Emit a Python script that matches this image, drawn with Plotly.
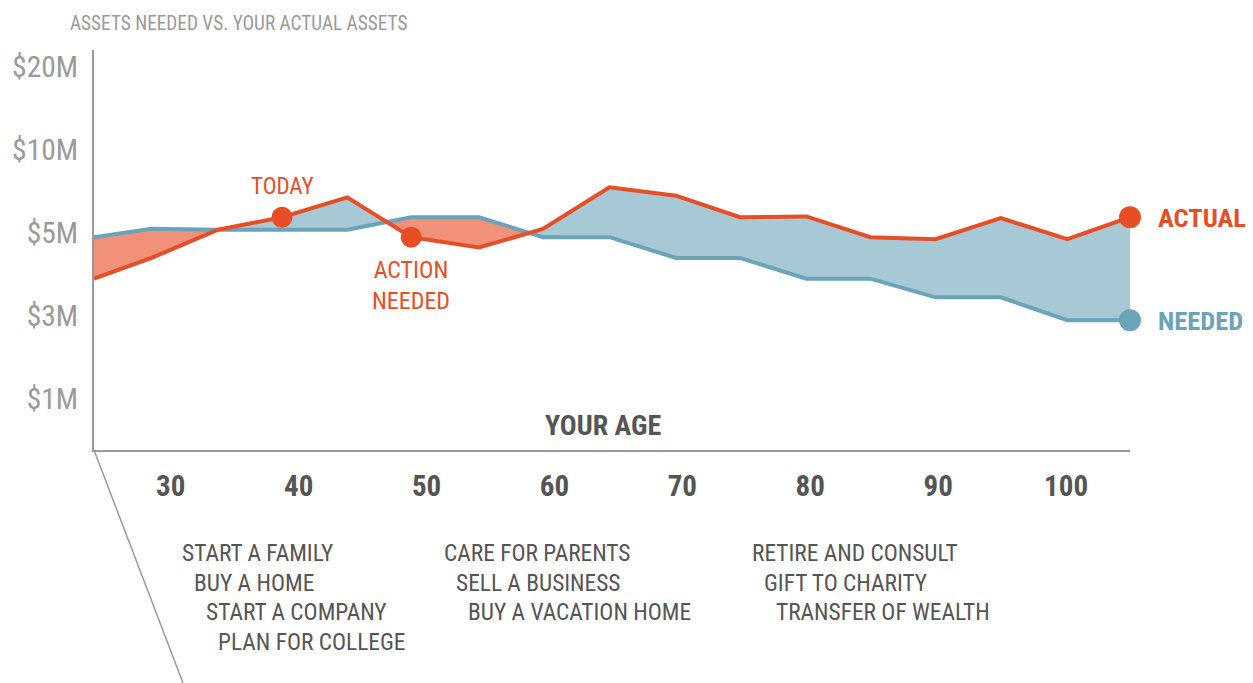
import numpy as np
import plotly.graph_objects as go

# ---------------- data ----------------
ages = [24, 28.5, 33.7, 38.7, 43.8, 48.8, 54.1, 59.1, 64.3, 69.5, 74.5, 79.7, 84.7, 89.8, 94.9, 100.1, 105]
actual_m = [3.9, 4.4, 5.2, 5.95, 7.15, 4.9, 4.65, 5.25, 7.75, 7.25, 5.95, 6.0, 4.9, 4.85, 5.9, 4.85, 5.95]
needed_m = [4.9, 5.25, 5.2, 5.2, 5.2, 5.95, 5.95, 4.9, 4.9, 4.4, 4.4, 3.9, 3.9, 3.45, 3.45, 2.9, 2.9]
y_tick_values = [1, 3, 5, 10, 20]
y_tick_labels = ["$1M", "$3M", "$5M", "$10M", "$20M"]
x_tick_values = [30, 40, 50, 60, 70, 80, 90, 100]
today_idx = 3
action_idx = 5
milestones = [
    ["START A FAMILY", "BUY A HOME", "START A COMPANY", "PLAN FOR COLLEGE"],
    ["CARE FOR PARENTS", "SELL A BUSINESS", "BUY A VACATION HOME"],
    ["RETIRE AND CONSULT", "GIFT TO CHARITY", "TRANSFER OF WEALTH"],
]

# ---------------- styles ----------------
FONT = "Liberation Sans Narrow, Roboto Condensed, DejaVu Sans Condensed, Arial Narrow, sans-serif"
ORANGE = "#E84E26"
ORANGE_FILL = "#F1917A"
BLUE = "#6BA3B8"
BLUE_FILL = "#A7C8D5"
GRAY = "#9A9A9A"
DARK = "#555555"

# custom (evenly spaced) money scale
scale_idx = list(range(len(y_tick_values)))
def to_level(v):
    return np.interp(v, y_tick_values, scale_idx)

xa = np.array(ages, dtype=float)
ya = to_level(np.array(actual_m))
yn = to_level(np.array(needed_m))

# ---------- build fill regions between the lines ----------
pts = []
for i in range(len(xa)):
    pts.append((xa[i], ya[i], yn[i]))
    if i < len(xa) - 1:
        d0 = ya[i] - yn[i]
        d1 = ya[i + 1] - yn[i + 1]
        if d0 * d1 < 0:
            t = d0 / (d0 - d1)
            xc = xa[i] + t * (xa[i + 1] - xa[i])
            yc = ya[i] + t * (ya[i + 1] - ya[i])
            pts.append((xc, yc, yc))

runs = []
cur = [pts[0]]
for p in pts[1:]:
    cur.append(p)
    if abs(p[1] - p[2]) < 1e-9:
        runs.append(cur)
        cur = [p]
if len(cur) > 1:
    runs.append(cur)

fig = go.Figure()
for run in runs:
    diffs = [p[1] - p[2] for p in run if abs(p[1] - p[2]) > 1e-9]
    if not diffs:
        continue
    color = BLUE_FILL if diffs[0] > 0 else ORANGE_FILL
    rx = [p[0] for p in run] + [p[0] for p in run[::-1]]
    ry = [p[1] for p in run] + [p[2] for p in run[::-1]]
    fig.add_trace(go.Scatter(x=rx, y=ry, fill="toself", fillcolor=color, mode="lines",
                             line=dict(width=0), hoverinfo="skip", showlegend=False))

fig.add_trace(go.Scatter(x=xa, y=yn, mode="lines", line=dict(color=BLUE, width=4),
                         showlegend=False, cliponaxis=False))
fig.add_trace(go.Scatter(x=xa, y=ya, mode="lines", line=dict(color=ORANGE, width=4),
                         showlegend=False, cliponaxis=False))

# markers
fig.add_trace(go.Scatter(x=[xa[-1]], y=[yn[-1]], mode="markers",
                         marker=dict(color=BLUE, size=22, opacity=1, line=dict(width=0)),
                         showlegend=False, cliponaxis=False))
fig.add_trace(go.Scatter(x=[xa[today_idx], xa[action_idx], xa[-1]],
                         y=[ya[today_idx], ya[action_idx], ya[-1]], mode="markers",
                         marker=dict(color=ORANGE, size=[21, 21, 22], opacity=1, line=dict(width=0)),
                         showlegend=False, cliponaxis=False))

# ---------- layout geometry (page pixels; page body has an 8px margin) ----------
OFF = 8
PAGE_W, PAGE_H = 1253, 683
W, H = PAGE_W - OFF, PAGE_H - OFF
AX_L, AX_R, AX_T, AX_B = 94, 1130, 50, 450
L, R, T, B = AX_L - OFF, PAGE_W - AX_R, AX_T - OFF, PAGE_H - AX_B
pw, ph = AX_R - AX_L, AX_B - AX_T

def px_x(px):
    return (px - AX_L) / pw

def px_y(py):
    return (AX_B - py) / ph

ann = []
ann.append(dict(text="ASSETS NEEDED VS. YOUR ACTUAL ASSETS", xref="paper", yref="paper",
                x=px_x(68), y=px_y(23), xanchor="left", yanchor="middle", showarrow=False,
                font=dict(family=FONT, size=19.3, color=GRAY)))
ann.append(dict(text="TODAY", x=xa[today_idx], y=ya[today_idx], xref="x", yref="y",
                yshift=31, showarrow=False, xanchor="center", yanchor="middle",
                font=dict(family=FONT, size=23, color=ORANGE)))
ann.append(dict(text="ACTION<br>NEEDED", x=xa[action_idx], y=ya[action_idx], xref="x", yref="y",
                yshift=-48, showarrow=False, xanchor="center", yanchor="middle",
                font=dict(family=FONT, size=24, color=ORANGE)))
ann.append(dict(text="ACTUAL", x=xa[-1], y=ya[-1], xref="x", yref="y", xshift=26,
                showarrow=False, xanchor="left", yanchor="middle",
                font=dict(family=FONT, size=26.5, color=ORANGE, weight="bold")))
ann.append(dict(text="NEEDED", x=xa[-1], y=yn[-1], xref="x", yref="y", xshift=26,
                showarrow=False, xanchor="left", yanchor="middle",
                font=dict(family=FONT, size=26.5, color=BLUE, weight="bold")))
ann.append(dict(text="YOUR AGE", xref="paper", yref="paper", x=px_x(603), y=px_y(425),
                xanchor="center", yanchor="middle", showarrow=False,
                font=dict(family=FONT, size=28, color=DARK, weight="bold")))

group_x = [180, 442, 750]
for gx, group in zip(group_x, milestones):
    for j, txt in enumerate(group):
        ann.append(dict(text=txt, xref="paper", yref="paper", x=px_x(gx + 12 * j),
                        y=px_y(553 + 29.5 * j), xanchor="left", yanchor="middle",
                        showarrow=False, font=dict(family=FONT, size=23.4, color=DARK)))

shapes = [dict(type="line", xref="paper", yref="paper", x0=0, y0=0, x1=px_x(183), y1=px_y(683),
               line=dict(color=GRAY, width=1.5))]

fig.update_layout(
    width=W, height=H,
    margin=dict(l=L, r=R, t=T, b=B, pad=0, autoexpand=False),
    paper_bgcolor="white", plot_bgcolor="white",
    annotations=ann, shapes=shapes,
    xaxis=dict(range=[24, 105], tickvals=x_tick_values, showgrid=False, zeroline=False,
               automargin=False,
               showline=True, linecolor=GRAY, linewidth=2, ticks="", ticklabelstandoff=9,
               tickfont=dict(family=FONT, size=29, color=DARK, weight="bold")),
    yaxis=dict(range=[(399 - AX_B) / 83, (399 - AX_T) / 83],
               tickvals=to_level(np.array(y_tick_values)), ticktext=y_tick_labels,
               automargin=False,
               showgrid=False, zeroline=False, showline=True, linecolor=GRAY, linewidth=2,
               ticks="", ticklabelstandoff=8,
               tickfont=dict(family=FONT, size=29.5, color=GRAY)),
)

fig.write_html("out.html")
